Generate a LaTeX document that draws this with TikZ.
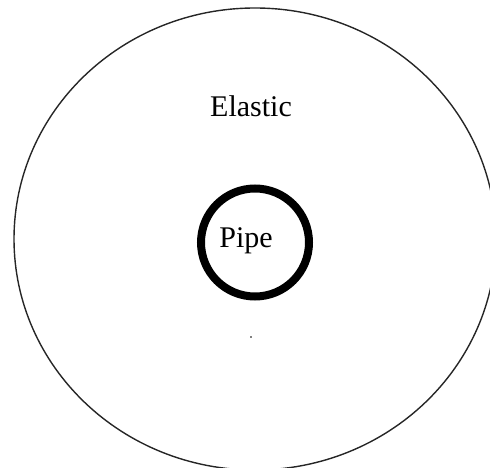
\documentclass[tikz,border=0pt]{standalone}
\usepackage{fontspec}
\setmainfont{Liberation Serif}
\usepackage{xcolor}
\usetikzlibrary{positioning, backgrounds}
\tikzset{
  % Mezzi e tubo
  medium/.style={draw=black!85,line width=1.4bp},
  pipe wall/.style={draw=black,line width=8bp},
  label big/.style={font=\fontsize{30bp}{36bp}\selectfont,inner sep=0pt,anchor=base}
}

\begin{document}
\begin{tikzpicture}[x=1bp,y=-1bp]
        \useasboundingbox (0,0) rectangle (490,468);
        \coordinate (centre) at (255,239);
        \draw[medium] (centre) ellipse [x radius=241,y radius=231];
        \node[label big] (elastic) at (251,117) {Elastic};
        \draw[pipe wall] (255,242.5) circle [radius=54];
        \node[label big] (pipe) at (246,247) {Pipe};
        \fill[black] (251,337) circle [radius=0.8];
      \end{tikzpicture}
\end{document}
